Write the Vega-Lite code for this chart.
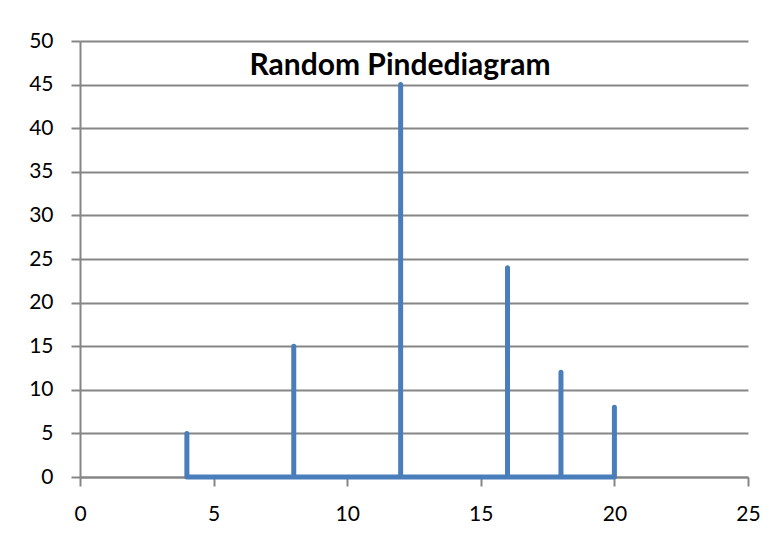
{
  "$schema": "https://vega.github.io/schema/vega-lite/v6.json",
  "width": 668,
  "height": 436,
  "autosize": {"type": "none"},
  "padding": {"left": 80, "top": 41, "right": 31, "bottom": 63},
  "background": "white",
  "title": {
    "text": "Random Pindediagram",
    "anchor": "middle",
    "dx": -14,
    "offset": -75,
    "baseline": "alphabetic",
    "font": "Lato",
    "fontSize": 30,
    "fontWeight": "bold",
    "color": "#000000"
  },
  "config": {
    "view": {"stroke": null},
    "axis": {
      "labelFont": "Lato",
      "labelFontSize": 21,
      "labelColor": "#000000",
      "domainColor": "#868686",
      "domainWidth": 2,
      "tickColor": "#868686",
      "tickWidth": 2,
      "tickSize": 9,
      "gridColor": "#868686",
      "gridWidth": 2,
      "gridOpacity": 1,
      "title": null
    }
  },
  "data": {
    "values": [
      {"x": 4, "y": 0, "o": 1},
      {"x": 4, "y": 5, "o": 2},
      {"x": 4, "y": 0, "o": 3},
      {"x": 8, "y": 0, "o": 4},
      {"x": 8, "y": 15, "o": 5},
      {"x": 8, "y": 0, "o": 6},
      {"x": 12, "y": 0, "o": 7},
      {"x": 12, "y": 45, "o": 8},
      {"x": 12, "y": 0, "o": 9},
      {"x": 16, "y": 0, "o": 10},
      {"x": 16, "y": 24, "o": 11},
      {"x": 16, "y": 0, "o": 12},
      {"x": 18, "y": 0, "o": 13},
      {"x": 18, "y": 12, "o": 14},
      {"x": 18, "y": 0, "o": 15},
      {"x": 20, "y": 0, "o": 16},
      {"x": 20, "y": 8, "o": 17},
      {"x": 20, "y": 0, "o": 18}
    ]
  },
  "mark": {"type": "line", "color": "#4a7ebb", "strokeWidth": 5, "strokeCap": "round", "strokeJoin": "round"},
  "encoding": {
    "x": {
      "field": "x", "type": "quantitative",
      "scale": {"domain": [0, 25], "nice": false, "zero": true},
      "axis": {"values": [0, 5, 10, 15, 20, 25], "grid": false, "labelPadding": 17, "labelFlush": false}
    },
    "y": {
      "field": "y", "type": "quantitative",
      "scale": {"domain": [0, 50], "nice": false},
      "axis": {"values": [0, 5, 10, 15, 20, 25, 30, 35, 40, 45, 50], "grid": true, "labelPadding": 18, "tickCount": 11}
    },
    "order": {"field": "o", "type": "quantitative"}
  }
}
